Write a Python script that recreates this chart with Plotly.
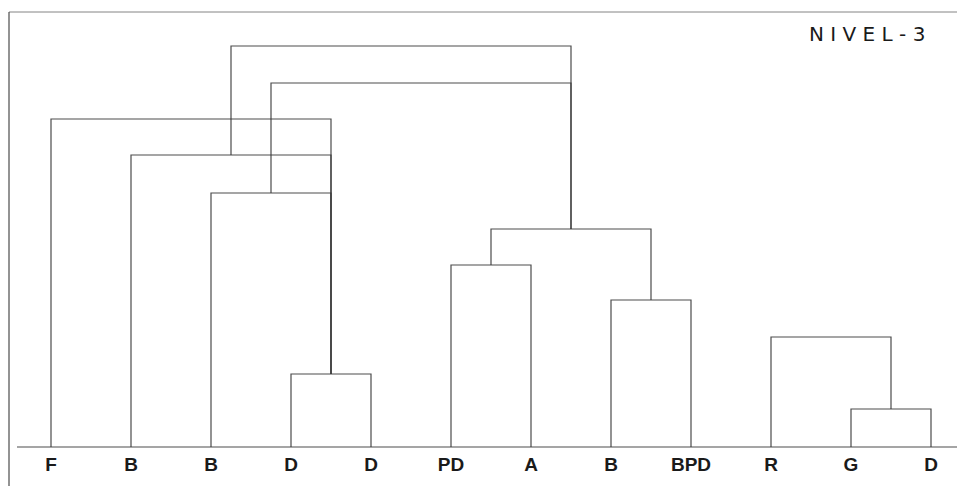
import plotly.graph_objects as go

# Leaf labels (left to right)
leaves = ["F", "B", "B", "D", "D", "PD", "A", "B", "BPD", "R", "G", "D"]

# Merges: children refer to leaves as ("L", idx) or earlier merges as ("M", idx)
merge_left = [("L", 3), ("L", 2), ("L", 1), ("L", 0), ("L", 5), ("L", 7), ("M", 4), ("M", 1), ("M", 2), ("L", 10), ("L", 9)]
merge_right = [("L", 4), ("M", 0), ("M", 0), ("M", 0), ("L", 6), ("L", 8), ("M", 5), ("M", 6), ("M", 6), ("L", 11), ("M", 9)]
merge_height = [0.73, 2.54, 2.92, 3.28, 1.82, 1.47, 2.18, 3.64, 4.01, 0.38, 1.10]

title_text = "N I V E L - 3"

LINE = "rgba(55,55,55,0.9)"

node_x, node_h = [], []


def pos(ch):
    kind, i = ch
    if kind == "L":
        return float(i), 0.0
    return node_x[i], node_h[i]


xs, ys = [], []
for l, r, h in zip(merge_left, merge_right, merge_height):
    lx, lh = pos(l)
    rx, rh = pos(r)
    xs += [lx, lx, rx, rx, None]
    ys += [lh, h, h, rh, None]
    node_x.append((lx + rx) / 2)
    node_h.append(h)

fig = go.Figure()
fig.add_trace(go.Scatter(x=xs, y=ys, mode="lines", line=dict(color=LINE, width=1.2),
                         hoverinfo="skip", showlegend=False))
fig.add_trace(go.Scatter(x=list(range(len(leaves))), y=[-0.19] * len(leaves), mode="text",
                         text=leaves, textposition="middle center",
                         textfont=dict(family="Liberation Sans", size=19, color="#1a1a1a", weight="bold"),
                         hoverinfo="skip", showlegend=False))

# Frame: left line, top line, baseline
fig.add_shape(type="line", x0=-0.525, x1=-0.525, y0=4.35, y1=-0.47, line=dict(color=LINE, width=1.2))
fig.add_shape(type="line", x0=-0.525, x1=11.525, y0=4.35, y1=4.35, line=dict(color="rgba(80,80,80,0.7)", width=1))
fig.add_shape(type="line", x0=-0.425, x1=11.525, y0=0, y1=0, line=dict(color=LINE, width=1.2))

fig.add_annotation(x=10.2, y=4.13, text=title_text, showarrow=False,
                   font=dict(family="DejaVu Sans", size=20, color="#1a1a1a"),
                   xanchor="center", yanchor="middle")

fig.update_layout(width=965, height=486, margin=dict(l=0, r=0, t=0, b=0),
                  paper_bgcolor="white", plot_bgcolor="white",
                  xaxis=dict(range=[-0.5375, 11.525], visible=False, fixedrange=True),
                  yaxis=dict(range=[-0.47, 4.39], visible=False, fixedrange=True))

fig.write_html("out.html")
